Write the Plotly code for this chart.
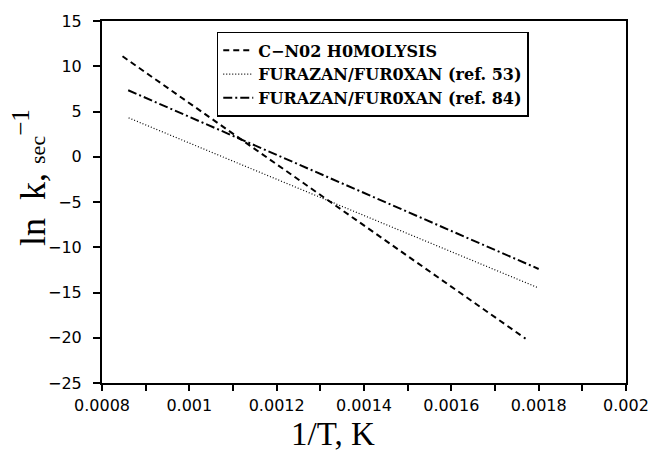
import plotly.graph_objects as go

# Data: endpoints of the Arrhenius lines
series_names = ["C−N02 H0MOLYSIS", "FURAZAN/FUR0XAN (ref. 53)", "FURAZAN/FUR0XAN (ref. 84)"]
cno2_x = [0.000847, 0.00177]
cno2_y = [11.1, -20.1]
fur53_x = [0.000861, 0.0018]
fur53_y = [4.3, -14.5]
fur84_x = [0.00086, 0.0018]
fur84_y = [7.35, -12.4]

x_tickvals = [0.0008, 0.001, 0.0012, 0.0014, 0.0016, 0.0018, 0.002]
x_ticktext = ["0.0008", "0.001", "0.0012", "0.0014", "0.0016", "0.0018", "0.002"]
y_tickvals = [-25, -20, -15, -10, -5, 0, 5, 10, 15]

fig = go.Figure()
fig.add_trace(go.Scatter(x=cno2_x, y=cno2_y, mode="lines", name=series_names[0],
                         line=dict(color="black", width=2, dash="6px,4px")))
fig.add_trace(go.Scatter(x=fur53_x, y=fur53_y, mode="lines", name=series_names[1],
                         line=dict(color="black", width=1.2, dash="1px,2px")))
fig.add_trace(go.Scatter(x=fur84_x, y=fur84_y, mode="lines", name=series_names[2],
                         line=dict(color="black", width=2, dash="9px,3px,2px,3px")))

tickfont = dict(family="DejaVu Sans", size=16, color="black")
serif = "Liberation Serif, Times New Roman"
fig.update_layout(
    width=661, height=456,
    margin=dict(l=102, r=27, t=18, b=73),
    paper_bgcolor="white", plot_bgcolor="white",
    showlegend=True,
    legend=dict(x=0.219, y=0.97, xanchor="left", yanchor="top",
                bordercolor="black", borderwidth=1.5, bgcolor="white",
                font=dict(family="DejaVu Serif", size=16, color="black", weight="bold"),
                tracegroupgap=0, itemwidth=30),
    xaxis=dict(range=[0.0008, 0.002], tickvals=x_tickvals, ticktext=x_ticktext,
               ticks="outside", ticklen=6, tickwidth=1.5, tickcolor="black",
               minor=dict(dtick=0.0001, tick0=0.0008, ticks="outside", ticklen=6, tickwidth=1.5, tickcolor="black"),
               showline=True, linecolor="black", linewidth=2, mirror=True,
               showgrid=False, zeroline=False, tickfont=tickfont, ticklabelstandoff=1),
    yaxis=dict(range=[-25, 15], tickvals=y_tickvals,
               ticks="outside", ticklen=7, tickwidth=1.5, tickcolor="black",
               showline=True, linecolor="black", linewidth=2, mirror=True,
               showgrid=False, zeroline=False, tickfont=tickfont, ticklabelstandoff=8),
    annotations=[
        dict(text="1/T, K", xref="paper", yref="paper", x=0.44, y=-0.197,
             xanchor="center", yanchor="bottom", showarrow=False,
             font=dict(family=serif, size=33, color="black")),
        dict(text="ln  k, <span style='font-size:22px'>sec</span><sup>−1</sup>",
             xref="paper", yref="paper", x=-0.137, y=0.567,
             xanchor="center", yanchor="middle", showarrow=False, textangle=-90,
             font=dict(family=serif, size=36, color="black")),
    ],
)

fig.write_html("out.html", config={"displayModeBar": False},
               post_script="document.body.style.margin='0px';")
